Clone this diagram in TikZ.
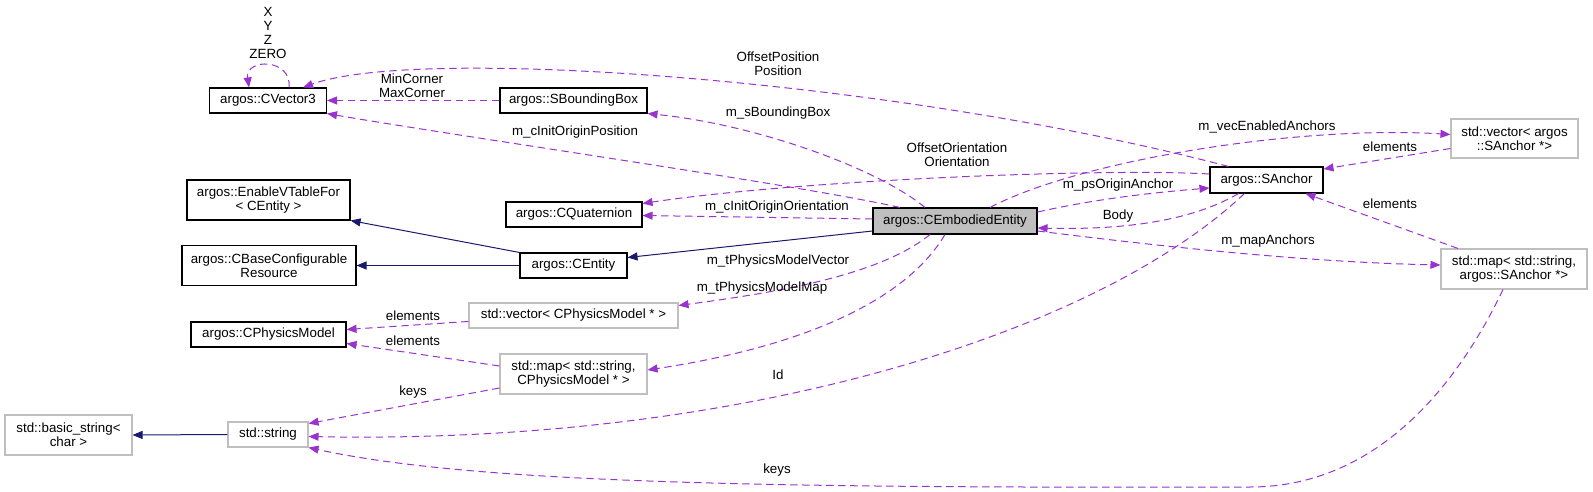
\documentclass[tikz,border=0pt]{standalone}
\usepackage{fontspec}
\setmainfont{Liberation Sans}
\usetikzlibrary{arrows.meta}

\definecolor{usecol}{RGB}{154,50,205}
\definecolor{inhcol}{RGB}{25,25,112}
\definecolor{greybox}{RGB}{191,191,191}

\begin{document}
\begin{tikzpicture}[x=0.75pt,y=-0.75pt,
                font=\fontsize{10}{10.7}\selectfont,
                cls/.style 2 args={draw=black, line width=0.8pt, align=center, inner sep=0pt,
                        minimum width=#1*0.75pt, minimum height=#2*0.75pt},
                ext/.style 2 args={cls={#1}{#2}, draw=greybox},
                uses/.style={-{Triangle[length=7.5pt,width=6pt]}, usecol, line width=0.75pt,
                        dash pattern=on 5.5pt off 3.5pt},
                inherit/.style={-{Triangle[length=7.5pt,width=6pt]}, inhcol, line width=0.75pt},
                lbl/.style={align=center, inner sep=0pt}]
                \useasboundingbox (0,0) rectangle (1593,492);
                % classes
                \node[cls={117}{25}] (cvec) at (268,100.5) {argos::CVector3};
                \node[cls={147}{25}] (sbb) at (573.5,100.5) {argos::SBoundingBox};
                \node[cls={163}{40}] (evt) at (268.5,200) {argos::EnableVTableFor\\< CEntity >};
                \node[cls={174}{40}] (cbcr) at (269,265.5) {argos::CBaseConfigurable\\Resource};
                \node[cls={136}{25}] (cquat) at (574,214.5) {argos::CQuaternion};
                \node[cls={107}{25}] (centity) at (573.5,265.5) {argos::CEntity};
                \node[cls={155}{25}] (cpm) at (268.5,334.5) {argos::CPhysicsModel};
                \node[cls={164}{26}, fill=greybox] (emb) at (955,221) {argos::CEmbodiedEntity};
                \node[cls={113}{26}] (sanc) at (1266.5,180) {argos::SAnchor};
                % templates
                \node[ext={209}{25}] (vecpm) at (573.5,315.5) {std::vector< CPhysicsModel * >};
                \node[ext={147}{40}] (mappm) at (573.5,374) {std::map< std::string,\\CPhysicsModel * >};
                \node[ext={127}{40}] (bstr) at (68.5,435) {std::basic\_string<\\char >};
                \node[ext={80}{25}] (str) at (268,434.5) {std::string};
                \node[ext={127}{39}] (vecsa) at (1514.5,138.5) {std::vector< argos\\::SAnchor *>};
                \node[ext={146}{40}] (mapsa) at (1514,269) {std::map< std::string,\\argos::SAnchor *>};

                % inheritance
                \draw[inherit] (centity.west) -- (cbcr.east);
                \draw[inherit] (centity.north west) -- (evt.south east);
                \draw[inherit] ([shift={(0,10)}]emb.west) -- ([shift={(0,-8)}]centity.east);

                % members
                \draw[uses] ([shift={(21,0)}]cvec.north) .. controls (292,58) and (245,58) .. ([shift={(-19,0)}]cvec.north);
                \draw[uses] (sbb.west) -- (cvec.east);
                \draw[uses] ([shift={(-38,0)}]sanc.north) .. controls (900,80) and (420,45) .. ([shift={(35,0)}]cvec.north);
                \draw[uses] ([shift={(-55,0)}]emb.north) .. controls (800,185) and (450,135) .. (cvec.south east);
                \draw[uses] ([shift={(-30,0)}]emb.north) .. controls (880,170) and (760,125) .. (sbb.south east);
                \draw[uses] ([shift={(0,-6)}]sanc.west) .. controls (1100,168) and (800,180) .. ([shift={(0,-11)}]cquat.east);
                \draw[uses] ([shift={(0,-2)}]emb.west) -- ([shift={(0,1)}]cquat.east);
                \draw[uses] ([shift={(-25,0)}]emb.south) .. controls (880,275) and (780,292) .. ([shift={(0,-10)}]vecpm.east);
                \draw[uses] ([shift={(-10,0)}]emb.south) .. controls (900,310) and (780,350) .. ([shift={(0,-4)}]mappm.east);
                \draw[uses] ([shift={(0,6)}]vecpm.west) -- ([shift={(0,-5)}]cpm.east);
                \draw[uses] ([shift={(0,-8)}]mappm.west) -- ([shift={(0,9)}]cpm.east);
                \draw[uses] ([shift={(0,14)}]mappm.west) -- ([shift={(0,-11)}]str.east);
                \draw[uses] ([shift={(-22,0)}]sanc.south) .. controls (1100,330) and (750,445) .. ([shift={(0,2)}]str.east);
                \draw[uses] ([shift={(-11,0)}]mapsa.south) .. controls (1460,380) and (1380,487) .. (1250,487)
                        .. controls (800,488) and (480,485) .. (str.south east);
                \draw[uses] ([shift={(0,-9)}]emb.east) .. controls (1100,198) and (1160,192) .. ([shift={(0,8)}]sanc.west);
                \draw[uses] ([shift={(-28,0)}]sanc.south) .. controls (1190,222) and (1120,230) .. ([shift={(0,7)}]emb.east);
                \draw[uses] ([shift={(0,10)}]emb.east) .. controls (1150,245) and (1300,262) .. ([shift={(0,-4)}]mapsa.west);
                \draw[uses] ([shift={(35,0)}]emb.north) .. controls (1080,160) and (1300,125) .. ([shift={(0,-4)}]vecsa.west);
                \draw[uses] ([shift={(0,10)}]vecsa.west) -- ([shift={(0,-11)}]sanc.east);
                \draw[uses] ([shift={(-56,0)}]mapsa.north) -- ([shift={(39,0)}]sanc.south);
                \draw[inherit] (str.west) -- (bstr.east);

                % labels
                \node[lbl] (lxyz) at (268,33) {X\\Y\\Z\\ZERO};
                \node[lbl] (lminmax) at (412,85.5) {MinCorner\\MaxCorner};
                \node[lbl] (lofspos) at (778,63.5) {OffsetPosition\\Position};
                \node[lbl] (linitpos) at (575,132) {m\_cInitOriginPosition};
                \node[lbl] (lbbox) at (778,113) {m\_sBoundingBox};
                \node[lbl] (lofsori) at (957,154.5) {OffsetOrientation\\Orientation};
                \node[lbl] (linitori) at (777,207) {m\_cInitOriginOrientation};
                \node[lbl] (lpmvec) at (778,261) {m\_tPhysicsModelVector};
                \node[lbl] (lpmmap) at (762,288) {m\_tPhysicsModelMap};
                \node[lbl] (lelemvec) at (413,316) {elements};
                \node[lbl] (lelemmap) at (413,341) {elements};
                \node[lbl] (lkeyspm) at (413,392) {keys};
                \node[lbl] (lid) at (778,375) {Id};
                \node[lbl] (lkeyssa) at (777,470) {keys};
                \node[lbl] (lorigin) at (1118,185) {m\_psOriginAnchor};
                \node[lbl] (lbody) at (1118,216) {Body};
                \node[lbl] (lmapanc) at (1268,241) {m\_mapAnchors};
                \node[lbl] (lvecanc) at (1267,127) {m\_vecEnabledAnchors};
                \node[lbl] (lelemsav) at (1390,147) {elements};
                \node[lbl] (lelemsam) at (1390,204) {elements};
            \end{tikzpicture}
\end{document}
